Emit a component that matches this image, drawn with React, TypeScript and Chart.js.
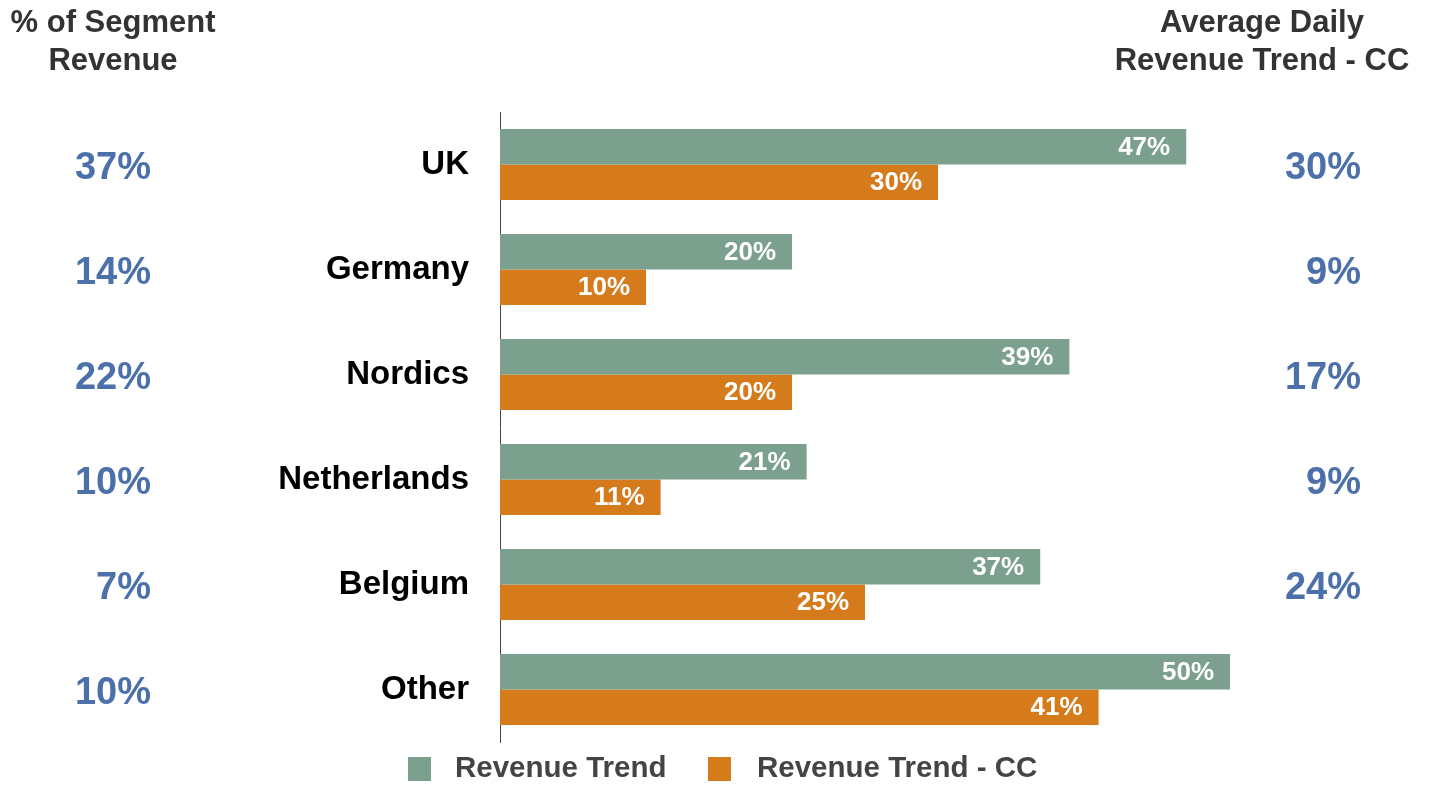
import React, { useEffect, useRef } from "react";
import { Chart, registerables } from "chart.js";

Chart.register(...registerables);

const categories = ["UK", "Germany", "Nordics", "Netherlands", "Belgium", "Other"];
const revenueTrend = [47, 20, 39, 21, 37, 50];
const revenueTrendCC = [30, 10, 20, 11, 25, 41];
const segmentShare = ["37%", "14%", "22%", "10%", "7%", "10%"];
const avgDailyTrendCC = ["30%", "9%", "17%", "9%", "24%", ""];
const seriesNames = ["Revenue Trend", "Revenue Trend - CC"];
const leftHeader = ["% of Segment", "Revenue"];
const rightHeader = ["Average Daily", "Revenue Trend - CC"];

const GREEN = "#7ca08e";
const ORANGE = "#d57b1b";
const BLUE = "#4c70a9";
const FONT = '"Liberation Sans", Arial, sans-serif';

const sidePlugin = {
  id: "sideText",
  afterDraw(chart: any) {
    const ctx = chart.ctx;
    const y = chart.scales.y;
    ctx.save();
    // headers
    ctx.fillStyle = "#333333";
    ctx.font = `bold 31px ${FONT}`;
    ctx.textAlign = "center";
    ctx.textBaseline = "middle";
    ctx.fillText(leftHeader[0], 113, 23);
    ctx.fillText(leftHeader[1], 113, 61);
    ctx.fillText(rightHeader[0], 1262, 23);
    ctx.fillText(rightHeader[1], 1262, 61);
    // side values
    ctx.fillStyle = BLUE;
    ctx.font = `bold 38px ${FONT}`;
    ctx.textAlign = "right";
    categories.forEach((_, i) => {
      const py = y.getPixelForValue(i) + 4;
      ctx.fillText(segmentShare[i], 151, py);
      if (avgDailyTrendCC[i]) ctx.fillText(avgDailyTrendCC[i], 1361, py);
    });
    // data labels
    ctx.fillStyle = "#ffffff";
    ctx.font = `bold 26px ${FONT}`;
    ctx.textAlign = "right";
    chart.data.datasets.forEach((ds: any, di: number) => {
      const meta = chart.getDatasetMeta(di);
      meta.data.forEach((bar: any, i: number) => {
        ctx.fillText(ds.data[i] + "%", bar.x - 16, bar.y + 1);
      });
    });
    // legend
    const items = [
      { label: seriesNames[0], color: GREEN, sx: 408, tx: 455 },
      { label: seriesNames[1], color: ORANGE, sx: 708, tx: 757 },
    ];
    ctx.font = `bold 29.5px ${FONT}`;
    ctx.textAlign = "left";
    items.forEach((it) => {
      ctx.fillStyle = it.color;
      ctx.fillRect(it.sx, 757, 23, 24);
      ctx.fillStyle = "#444444";
      ctx.fillText(it.label, it.tx, 769);
    });
    ctx.restore();
  },
};

export default function App() {
  const ref = useRef<HTMLCanvasElement>(null);
  useEffect(() => {
    const chart = new Chart(ref.current!, {
      type: "bar",
      data: {
        labels: categories,
        datasets: [
          { label: seriesNames[0], data: revenueTrend, backgroundColor: GREEN },
          { label: seriesNames[1], data: revenueTrendCC, backgroundColor: ORANGE },
        ],
      },
      options: {
        indexAxis: "y",
        animation: false,
        responsive: false,
        maintainAspectRatio: false,
        layout: { padding: { top: 112, bottom: 43, right: 204, left: 0 } },
        datasets: { bar: { categoryPercentage: 0.675, barPercentage: 1 } },
        plugins: { legend: { display: false }, tooltip: { enabled: false } },
        scales: {
          x: { display: false, min: 0, max: 50 },
          y: {
            afterFit: (s: any) => {
              s.width = 500;
              s.paddingTop = 0;
              s.paddingBottom = 0;
            },
            grid: { display: false, drawTicks: false },
            border: { display: true, color: "#444444", width: 1 },
            ticks: {
              color: "#000000",
              padding: 31,
              font: { family: FONT, size: 33, weight: "bold" },
            },
          },
        },
      },
      plugins: [sidePlugin],
    });
    return () => chart.destroy();
  }, []);
  return (
    <div style={{ position: "absolute", left: 0, top: 0, width: 1434, height: 785, background: "#fff" }}>
      <canvas ref={ref} width={1434} height={785} style={{ width: 1434, height: 785 }} />
    </div>
  );
}
